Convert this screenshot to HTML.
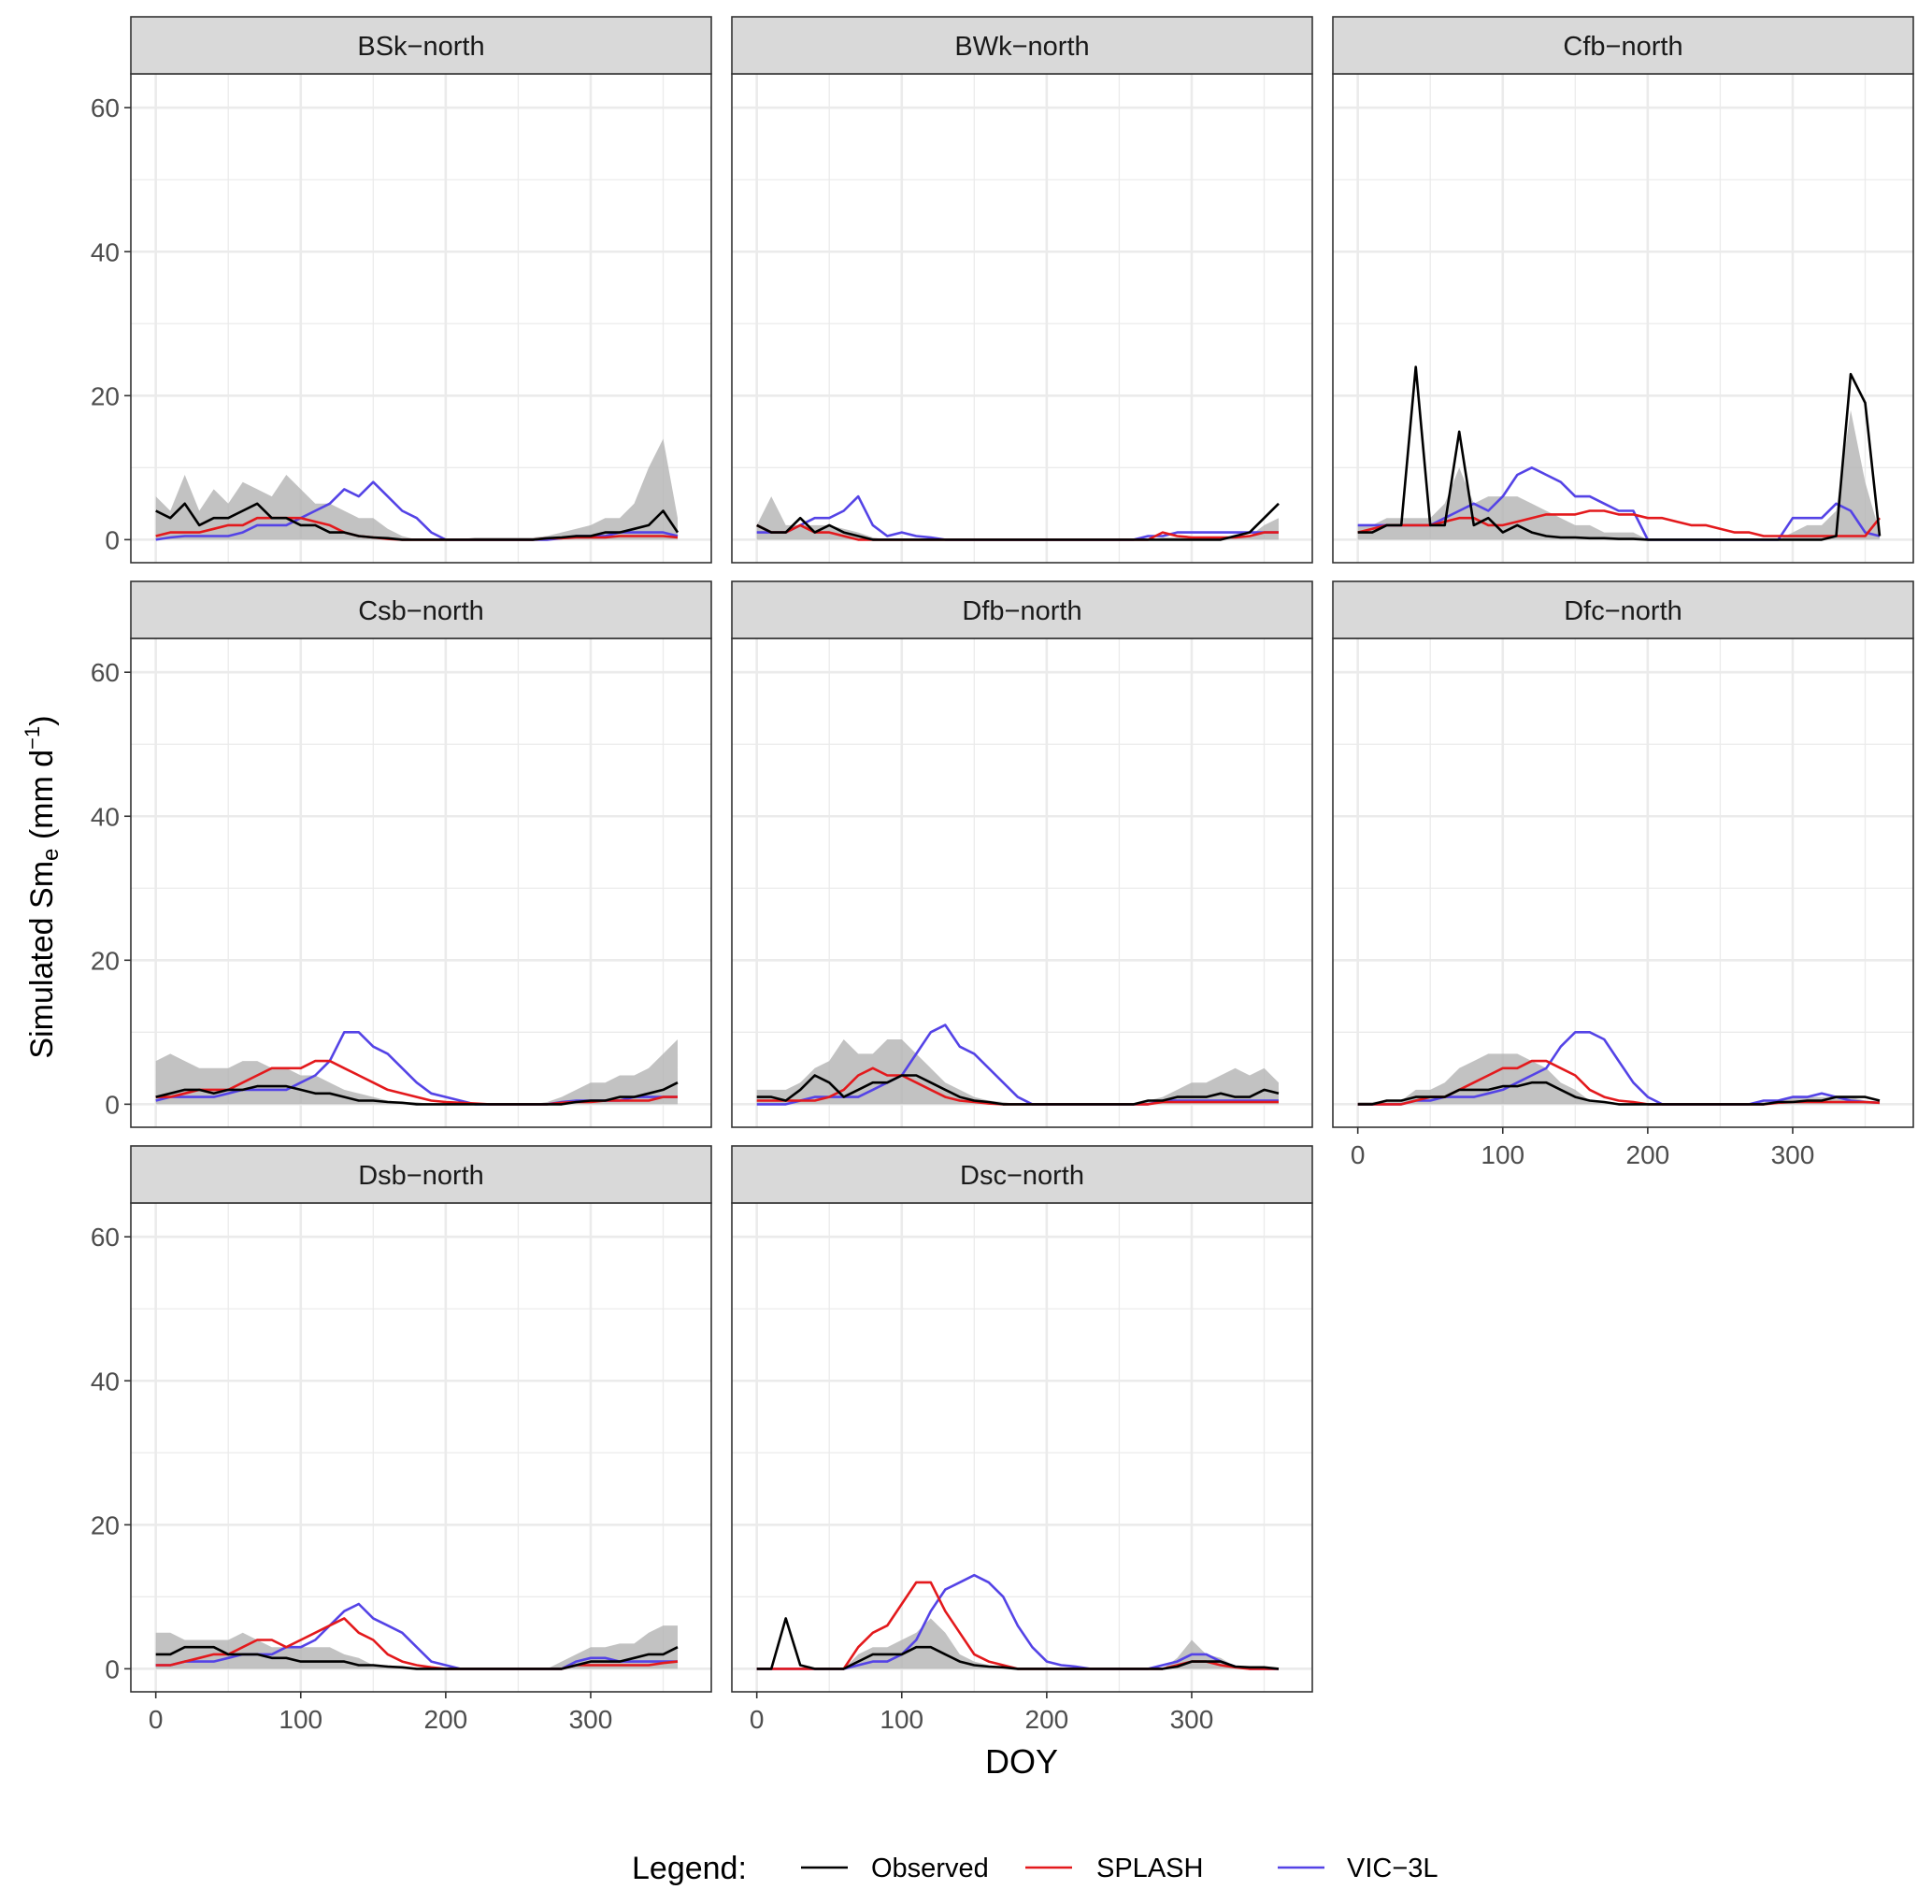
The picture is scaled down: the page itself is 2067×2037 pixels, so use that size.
<!DOCTYPE html>
<html><head><meta charset="utf-8"><style>
html,body{margin:0;padding:0;background:#fff;}
svg{display:block;font-family:"Liberation Sans",Arial,sans-serif;}
</style></head><body>
<svg id="chart" width="2067" height="2037" viewBox="0 0 2067 2037" xmlns="http://www.w3.org/2000/svg">
<text transform="translate(56,949) rotate(-90)" text-anchor="middle" font-size="34" fill="#000">Simulated Sm<tspan font-size="24" dy="6">e</tspan><tspan dy="-6"> (mm d</tspan><tspan font-size="22" dy="-14">−1</tspan><tspan dy="14">)</tspan></text>
<text x="1093" y="1897" text-anchor="middle" font-size="36" fill="#000">DOY</text>
<g>
<text x="676" y="2010" font-size="34" fill="#000">Legend:</text>
<line x1="857" y1="1998" x2="907" y2="1998" stroke="#000" stroke-width="2.5"/>
<text x="932" y="2008" font-size="29" fill="#000">Observed</text>
<line x1="1097" y1="1998" x2="1147" y2="1998" stroke="#e3191c" stroke-width="2.5"/>
<text x="1173" y="2008" font-size="29" fill="#000">SPLASH</text>
<line x1="1367" y1="1998" x2="1417" y2="1998" stroke="#5443e6" stroke-width="2.5"/>
<text x="1441" y="2008" font-size="29" fill="#000">VIC−3L</text>
</g>
</svg>
<script>
const days = [0,10,20,30,40,50,60,70,80,90,100,110,120,130,140,150,160,170,180,190,200,210,220,230,240,250,260,270,280,290,300,310,320,330,340,350,360];
const yTicks = [0,20,40,60];
const xTicks = [0,100,200,300];
const panelNames = ["BSk−north","BWk−north","Cfb−north","Csb−north","Dfb−north","Dfc−north","Dsb−north","Dsc−north"];

const bskObs=[4,3,5,2,3,3,4,5,3,3,2,2,1,1,0.5,0.3,0.2,0,0,0,0,0,0,0,0,0,0,0.2,0.3,0.5,0.5,1,1,1.5,2,4,1];
const bskSplash=[0.5,1,1,1,1.5,2,2,3,3,3,3,2.5,2,1,0.5,0.3,0.1,0,0,0,0,0,0,0,0,0,0,0.2,0.2,0.3,0.3,0.3,0.5,0.5,0.5,0.5,0.3];
const bskVic=[0,0.3,0.5,0.5,0.5,0.5,1,2,2,2,3,4,5,7,6,8,6,4,3,1,0,0,0,0,0,0,0,0,0.2,0.5,0.5,0.5,1,1,1,1,0.5];
const bskBand=[6,4,9,4,7,5,8,7,6,9,7,5,5,4,3,3,1.5,0.5,0,0,0,0,0.3,0.3,0.3,0.3,0.3,0.5,1,1.5,2,3,3,5,10,14,3];

const bwkObs=[2,1,1,3,1,2,1,0.5,0,0,0,0,0,0,0,0,0,0,0,0,0,0,0,0,0,0,0,0,0,0,0,0,0,0.5,1,3,5];
const bwkSplash=[2,1,1,2,1,1,0.5,0,0,0,0,0,0,0,0,0,0,0,0,0,0,0,0,0,0,0,0,0,1,0.5,0.3,0.3,0.3,0.3,0.5,1,1];
const bwkVic=[1,1,1,2,3,3,4,6,2,0.5,1,0.5,0.3,0,0,0,0,0,0,0,0,0,0,0,0,0,0,0.5,0.5,1,1,1,1,1,1,1,1];
const bwkBand=[2,6,2,2,2,2,1.5,1,0.3,0,0,0,0,0,0,0,0,0,0,0,0,0,0,0,0,0,0,0,0.3,0.3,0.3,0.3,0.3,0.5,0.5,2,3];

const cfbObs=[1,1,2,2,24,2,2,15,2,3,1,2,1,0.5,0.3,0.3,0.2,0.2,0.1,0.1,0,0,0,0,0,0,0,0,0,0,0,0,0,0.5,23,19,0.5];
const cfbSplash=[1,1.5,2,2,2,2,2.5,3,3,2,2,2.5,3,3.5,3.5,3.5,4,4,3.5,3.5,3,3,2.5,2,2,1.5,1,1,0.5,0.5,0.5,0.5,0.5,0.5,0.5,0.5,3];
const cfbVic=[2,2,2,2,2,2,3,4,5,4,6,9,10,9,8,6,6,5,4,4,0,0,0,0,0,0,0,0,0,0,3,3,3,5,4,1,0.5];
const cfbBand=[2,2,3,3,3,3,5,10,5,6,6,6,5,4,3,2,2,1,1,1,0,0,0,0,0,0,0,0,0,0,1,2,2,4,18,8,1];

const csbObs=[1,1.5,2,2,1.5,2,2,2.5,2.5,2.5,2,1.5,1.5,1,0.5,0.5,0.3,0.2,0,0,0,0,0,0,0,0,0,0,0,0.3,0.5,0.5,1,1,1.5,2,3];
const csbSplash=[1,1,1.5,2,2,2,3,4,5,5,5,6,6,5,4,3,2,1.5,1,0.5,0.3,0.2,0.1,0,0,0,0,0,0.2,0.3,0.3,0.5,0.5,0.5,0.5,1,1];
const csbVic=[0.5,1,1,1,1,1.5,2,2,2,2,3,4,6,10,10,8,7,5,3,1.5,1,0.5,0,0,0,0,0,0,0.3,0.5,0.5,0.5,0.5,1,1,1,1];
const csbBand=[6,7,6,5,5,5,6,6,5,5,4,4,3,2,1.5,1,0.5,0.3,0.3,0,0,0,0,0,0,0,0,0.3,1,2,3,3,4,4,5,7,9];

const dfbObs=[1,1,0.5,2,4,3,1,2,3,3,4,4,3,2,1,0.5,0.3,0,0,0,0,0,0,0,0,0,0,0.5,0.5,1,1,1,1.5,1,1,2,1.5];
const dfbSplash=[0.5,0.5,0.5,0.5,0.5,1,2,4,5,4,4,3,2,1,0.5,0.3,0.1,0,0,0,0,0,0,0,0,0,0,0,0.3,0.3,0.3,0.3,0.3,0.3,0.3,0.3,0.3];
const dfbVic=[0,0,0,0.5,1,1,1,1,2,3,4,7,10,11,8,7,5,3,1,0,0,0,0,0,0,0,0,0,0.5,0.5,0.5,0.5,0.5,0.5,0.5,0.5,0.5];
const dfbBand=[2,2,2,3,5,6,9,7,7,9,9,7,5,3,2,1,0.5,0.3,0,0,0,0,0,0,0,0,0,0.5,1,2,3,3,4,5,4,5,3];

const dfcObs=[0,0,0.5,0.5,1,1,1,2,2,2,2.5,2.5,3,3,2,1,0.5,0.3,0,0,0,0,0,0,0,0,0,0,0,0.3,0.3,0.5,0.5,1,1,1,0.5];
const dfcSplash=[0,0,0,0,0.5,1,1,2,3,4,5,5,6,6,5,4,2,1,0.5,0.3,0,0,0,0,0,0,0,0,0,0.2,0.3,0.3,0.3,0.3,0.3,0.3,0.2];
const dfcVic=[0,0,0,0,0.5,0.5,1,1,1,1.5,2,3,4,5,8,10,10,9,6,3,1,0,0,0,0,0,0,0,0.5,0.5,1,1,1.5,1,0.5,0.3,0.2];
const dfcBand=[0.3,0.3,0.5,0.5,2,2,3,5,6,7,7,7,6,5,3,2,0.5,0.3,0,0,0,0,0,0,0,0,0,0,0.3,0.5,1,1,1,1,1,0.5,0.3];

const dsbObs=[2,2,3,3,3,2,2,2,1.5,1.5,1,1,1,1,0.5,0.5,0.3,0.2,0,0,0,0,0,0,0,0,0,0,0,0.5,1,1,1,1.5,2,2,3];
const dsbSplash=[0.5,0.5,1,1.5,2,2,3,4,4,3,4,5,6,7,5,4,2,1,0.5,0.2,0,0,0,0,0,0,0,0,0,0.5,0.5,0.5,0.5,0.5,0.5,0.8,1];
const dsbVic=[0.5,0.5,1,1,1,1.5,2,2,2,3,3,4,6,8,9,7,6,5,3,1,0.5,0,0,0,0,0,0,0,0,1,1.5,1.5,1,1,1,1,1];
const dsbBand=[5,5,4,4,4,4,5,4,3,3,3,3,3,2,1.5,0.5,0.5,0.3,0,0,0,0,0,0,0,0,0,0,1,2,3,3,3.5,3.5,5,6,6];

const dscObs=[0,0,7,0.5,0,0,0,1,2,2,2,3,3,2,1,0.5,0.3,0.2,0,0,0,0,0,0,0,0,0,0,0,0.3,1,1,1,0.3,0.2,0.2,0];
const dscSplash=[0,0,0,0,0,0,0,3,5,6,9,12,12,8,5,2,1,0.5,0,0,0,0,0,0,0,0,0,0,0,0.5,1,1,0.5,0.2,0,0,0];
const dscVic=[0,0,0,0,0,0,0,0.5,1,1,2,4,8,11,12,13,12,10,6,3,1,0.5,0.3,0,0,0,0,0,0.5,1,2,2,1,0.3,0,0,0];
const dscBand=[0,0,0,0,0,0,0,2,3,3,4,5,7,5,2,1,0.5,0.2,0,0,0,0,0,0,0,0,0,0,0,1.5,4,2,1.5,0.3,0,0,0];

const obsSeries=[bskObs,bwkObs,cfbObs,csbObs,dfbObs,dfcObs,dsbObs,dscObs];
const splashSeries=[bskSplash,bwkSplash,cfbSplash,csbSplash,dfbSplash,dfcSplash,dsbSplash,dscSplash];
const vicSeries=[bskVic,bwkVic,cfbVic,csbVic,dfbVic,dfcVic,dsbVic,dscVic];
const bandSeries=[bskBand,bwkBand,cfbBand,csbBand,dfbBand,dfcBand,dsbBand,dscBand];

const NS="http://www.w3.org/2000/svg";
const svg=document.getElementById('chart');
const colLeft=[140,783,1426], rowTop=[18,622,1226];
const PW=621, SH=61, PH=523;
const XMIN=-17.2, XMAX=383.2, YMIN=-3.2, YMAX=64.7;
function mk(tag,attrs,parent){const e=document.createElementNS(NS,tag);for(const k in attrs)e.setAttribute(k,attrs[k]);(parent||svg).appendChild(e);return e;}

panelNames.forEach((name,p)=>{
  const c=p%3, r=Math.floor(p/3);
  const L=colLeft[c], T=rowTop[r]+SH, B=T+PH;
  const xs=d=>L+(d-XMIN)/(XMAX-XMIN)*PW;
  const ys=v=>B-(v-YMIN)/(YMAX-YMIN)*PH;
  const g=mk('g',{});
  
  
  for(let v=10;v<=60;v+=10){const ln=mk('line',{x1:L,x2:L+PW,y1:ys(v),y2:ys(v),stroke:'#ebebeb','stroke-width':v%20===0?2.6:1.3},g);}
  const ln0=mk('line',{x1:L,x2:L+PW,y1:ys(0),y2:ys(0),stroke:'#ebebeb','stroke-width':2.6},g);
  
  for(let d=0;d<=350;d+=50){const ln=mk('line',{x1:xs(d),x2:xs(d),y1:T,y2:B,stroke:'#ebebeb','stroke-width':d%100===0?2.6:1.3},g);}
  const band=bandSeries[p];
  let dpath='M'+xs(days[0])+','+ys(0);
  band.forEach((v,i)=>{dpath+=' L'+xs(days[i]).toFixed(1)+','+ys(v).toFixed(1);});
  dpath+=' L'+xs(days[band.length-1])+','+ys(0)+' Z';
  const bp=mk('path',{d:dpath,fill:'#b3b3b3','fill-opacity':0.8},g);
  
  [[vicSeries,'#5443e6','vic-3l-line'],[splashSeries,'#e3191c','splash-line'],[obsSeries,'#000','observed-line']].forEach(([ser,col,nm])=>{
    const arr=ser[p];
    const pts=arr.map((v,i)=>xs(days[i]).toFixed(1)+','+ys(v).toFixed(1)).join(' ');
    const pl=mk('polyline',{points:pts,fill:'none',stroke:col,'stroke-width':2.6,'stroke-linejoin':'round'},g);
    
  });
  const fr=mk('rect',{x:L,y:T,width:PW,height:PH,fill:'none',stroke:'#333','stroke-width':1.6},g);
  
  const st=mk('rect',{x:L,y:rowTop[r],width:PW,height:SH,fill:'#d9d9d9',stroke:'#333','stroke-width':1.6},g);
  
  const tx=mk('text',{x:L+PW/2,y:rowTop[r]+41,'text-anchor':'middle','font-size':29,fill:'#1a1a1a'},g);
  tx.textContent=name;
  
  if(c===0){
    yTicks.forEach(v=>{
      const tk=mk('line',{x1:L-7,x2:L,y1:ys(v),y2:ys(v),stroke:'#333','stroke-width':1.6},g);
      
      const tl=mk('text',{x:L-12,y:ys(v)+10,'text-anchor':'end','font-size':28,fill:'#4d4d4d'},g);
      tl.textContent=v;
      
    });
  }
  if(r===2||p===5){
    xTicks.forEach(d=>{
      const tk=mk('line',{x1:xs(d),x2:xs(d),y1:B,y2:B+7,stroke:'#333','stroke-width':1.6},g);
      
      const tl=mk('text',{x:xs(d),y:B+39,'text-anchor':'middle','font-size':28,fill:'#4d4d4d'},g);
      tl.textContent=d;
      
    });
  }
});
</script>
</body></html>
